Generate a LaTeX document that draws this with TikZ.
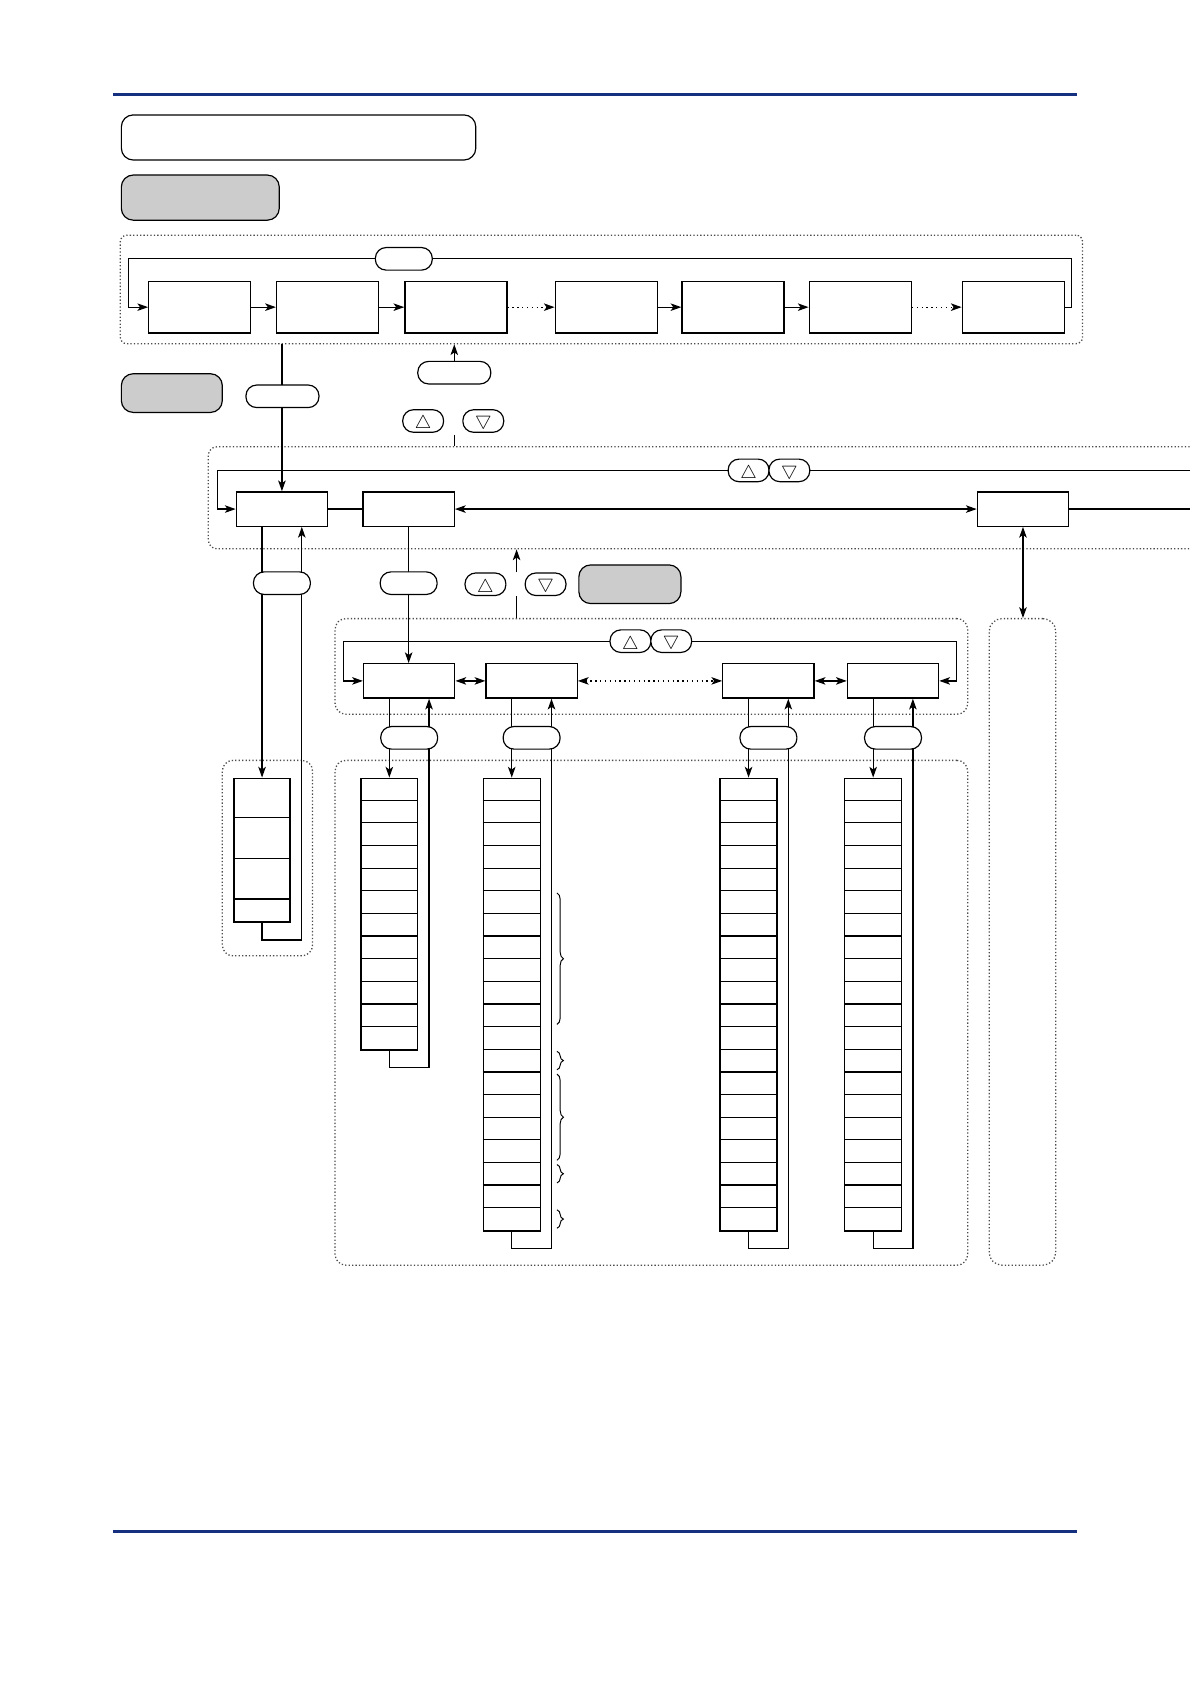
\documentclass[tikz,border=0pt]{standalone}
\usepackage{amsmath, amssymb}
\usepackage{xcolor}
\usepackage{tikz}
\usetikzlibrary{arrows.meta, calc, decorations.pathreplacing}

\definecolor{rulebl}{RGB}{22,48,128}
\newcommand{\keyup}{\raisebox{-3pt}[\height][\depth]{$\bigtriangleup$}}
\newcommand{\keydown}{$\bigtriangledown$}

\tikzset{
  box/.style={draw, line width=1.2pt, fill=white, inner sep=0pt},
  boxA/.style={box, minimum width=95pt, minimum height=48pt},
  boxB/.style={box, minimum width=85pt, minimum height=32pt},
  pill/.style={draw, line width=1.1pt, fill=white, inner sep=0pt,
    rounded corners=10pt, minimum width=53pt, minimum height=21pt},
  key/.style={pill, minimum width=38pt, font=\LARGE},
  greybox/.style={draw, line width=1.1pt, fill=black!20, rounded corners=11pt,
    inner sep=0pt},
  region/.style={draw, line width=1.2pt, black!70, dotted, rounded corners=10pt,
    inner sep=0pt},
  stack/.style={draw, line width=1.2pt, minimum width=53pt, inner sep=0pt, anchor=north},
  wire/.style={line width=1.15pt},
  arr/.style={wire, -{Stealth[length=10pt,width=7pt,inset=2.5pt]}},
  darr/.style={wire, {Stealth[length=10pt,width=7pt,inset=2.5pt]}-{Stealth[length=10pt,width=7pt,inset=2.5pt]}},
  dots/.style={dash pattern=on 1.3pt off 3.2pt},
  curly/.style={line width=0.9pt, decorate, decoration={brace, amplitude=6pt}}
}

\begin{document}
\begin{tikzpicture}[x=1pt, y=-1pt]
  \useasboundingbox (0,0) rectangle (1108,1568);
  %% page rules
  \draw[rulebl, line width=3.7pt] (105,88) -- (1003,88);
  \draw[rulebl, line width=2.2pt] (105,1426) -- (1003,1426);

  \node[draw, line width=1.1pt, rounded corners=11pt, minimum width=330pt,
    minimum height=42pt] (title) at (278,128) {};
  \node[greybox, minimum width=147pt, minimum height=42pt] (modeA) at (186.5,184) {};
  \node[greybox, minimum width=94pt, minimum height=36pt] (modeB) at (160,366) {};
  \node[greybox, minimum width=95pt, minimum height=36pt] (modeC) at (586.5,544) {};

  %% groups
  \node[region, rounded corners=6pt, minimum width=896pt, minimum height=101pt] (regA) at (560,269.5) {};
  \node[region, rounded corners=8pt, minimum width=960pt, minimum height=95pt] (regC) at (674,463.5) {};
  \node[region, minimum width=589pt, minimum height=89pt] (regF) at (606.5,620.5) {};
  \node[region, minimum width=589pt, minimum height=470pt] (regG) at (606.5,943) {};
  \node[region, minimum width=84pt, minimum height=182pt] (regD) at (249,799) {};
  \node[region, rounded corners=12pt, minimum width=62pt, minimum height=602pt] (regE) at (952,877) {};

  %% top row
  \foreach \n/\x in {1/186,2/305,3/424.5,4/564.5,5/682.5,6/801,7/943.5}
    \node[boxA] (a\n) at (\x,286) {};
  \draw[arr] (a1) -- (a2);
  \draw[arr] (a2) -- (a3);
  \draw[arr, dots] (a3) -- (a4);
  \draw[arr] (a4) -- (a5);
  \draw[arr] (a5) -- (a6);
  \draw[arr, dots] (a6) -- (a7);
  \coordinate (topA) at (376,241);
  \draw[arr] (a7.east) -- ++(6,0) |- (topA) -| ($(a1.west)+(-18,0)$) -- (a1.west);
  \node[pill] (pA) at (topA) {};

  \node[pill, minimum width=68pt] (pB) at (423,347) {};
  \draw[arr] (pB.north) -- (pB.north |- regA.south);
  \node[key] (kBu) at (394,392) {\keyup};
  \node[key] (kBd) at (450,392) {\keydown};
  \coordinate (gB) at (423,405);
  \draw[wire] (gB) -- (gB |- regC.north);

  %% second row
  \node[boxB] (c1) at (262.5,474) {};
  \node[boxB] (c2) at (380.5,474) {};
  \node[boxB] (c3) at (952.5,474) {};
  \coordinate (edgeC1) at (1130,438);
  \coordinate (edgeC2) at (1130,474);
  \draw[arr] (regA.south -| c1.north) -- (c1.north);
  \draw[arr] (edgeC1) -| ($(c1.west)+(-17,0)$) -- (c1.west);
  \draw[wire] (c1) -- (c2);
  \draw[darr] (c2) -- (c3);
  \draw[wire] (c3) -- (edgeC2);
  \draw[darr] (c3.south) -- (c3.south |- regE.north);
  \node[pill, minimum width=68pt] (pRun) at (263,369) {};
  \node[key] (kCu) at (697,438) {\keyup};
  \node[key] (kCd) at (735,438) {\keydown};

  \node[key] (kDu) at (452,544) {\keyup};
  \node[key] (kDd) at (508,544) {\keydown};
  \coordinate (gD1) at (481,555);
  \coordinate (gD2) at (481,533);
  \draw[wire] (regF.north -| gD1) -- (gD1);
  \draw[arr] (gD2) -- (gD2 |- regC.south);

  %% left stack
  \node[stack, minimum width=52pt, minimum height=134pt] (sD) at (244,724) {};
  \foreach \d in {37,75,113}
    \draw[wire] ($(sD.north west)+(0,\d)$) -- ++(52,0);
  \draw[arr] (c1.south -| sD.north) -- (sD.north);
  \draw[arr] (sD.south) -- ++(0,16) -| ($(c1.south)+(18.5,0)$);
  \node[pill] (pC1) at (262.5,543) {};

  %% third row
  \foreach \n/\x in {1/381,2/495,3/715.5,4/831.5}
    \node[boxB] (f\n) at (\x,634) {};
  \draw[arr] (c2.south) -- (c2.south |- f1.north);
  \node[pill] (pC2) at (380.5,543) {};
  \coordinate (topF) at (606,597);
  \draw[darr] (f1.west) -- ++(-18,0) |- (topF) -| ($(f4.east)+(16,0)$) -- (f4.east);
  \node[key] (kFu) at (587,597) {\keyup};
  \node[key] (kFd) at (625,597) {\keydown};
  \draw[darr] (f1) -- (f2);
  \draw[darr, dots] (f2) -- (f3);
  \draw[darr] (f3) -- (f4);

  %% parameter lists
  \node[stack, minimum height=253pt] (s1) at (362.5,724) {};
  \foreach \i in {1,...,11}
    \draw[wire] ($(s1.north west)+(0,\i*21.08)$) -- ++(53,0);
  \foreach \n/\x in {2/476.5,3/697,4/813}{
    \node[stack, minimum height=421.5pt] (s\n) at (\x,724) {};
    \foreach \i in {1,...,19}
      \draw[wire] ($(s\n.north west)+(0,\i*21.08)$) -- ++(53,0);
  }
  \foreach \n in {1,...,4}{
    \draw[arr] (f\n.south -| s\n.north) -- (s\n.north);
    \draw[arr] (s\n.south) -- ++(0,15.5) -| ($(f\n.south)+(18.5,0)$);
    \node[pill] (pF\n) at (f\n |- 0,687) {};
  }
  \foreach \a/\b in {5/11,12/13,13/17,17/18,19/20}
    \draw[curly] ($(s2.north east)+(15,\a*21.08+2)$) -- ($(s2.north east)+(15,\b*21.08-2)$);
\end{tikzpicture}
\end{document}
